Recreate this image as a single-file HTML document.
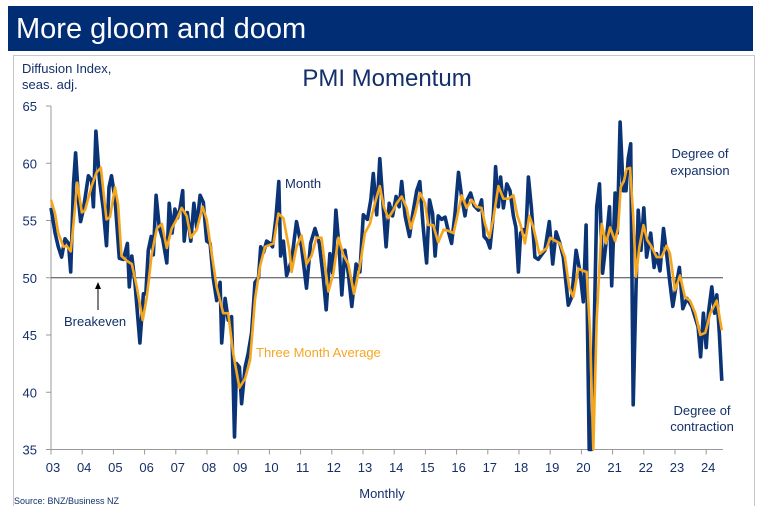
<!DOCTYPE html>
<html><head><meta charset="utf-8"><style>
body{margin:0;width:757px;height:506px;background:#fff;overflow:hidden;font-family:"Liberation Sans",sans-serif;}
</style></head><body>
<svg width="757" height="506" viewBox="0 0 757 506" style="position:absolute;left:0;top:0">
<rect x="8" y="6" width="745" height="45" fill="#002d74"/>
<text x="16" y="38" font-size="29" fill="#fff">More gloom and doom</text>
<rect x="13.5" y="55.5" width="741" height="460" fill="none" stroke="#c8c8c8"/>
<text x="22" y="73" font-size="13" fill="#14306a">Diffusion Index,</text>
<text x="22" y="89" font-size="13" fill="#14306a">seas. adj.</text>
<text x="387" y="86" font-size="24" fill="#14306a" text-anchor="middle">PMI Momentum</text>
<g id="axes"></g>
<g id="marks"></g>
<text x="285" y="188" font-size="13" fill="#14306a">Month</text>
<text x="64" y="326" font-size="13" fill="#14306a">Breakeven</text>
<line x1="98" y1="310" x2="98" y2="287" stroke="#000" stroke-width="1"/>
<polygon points="98,282 95,289 101,289" fill="#000"/>
<text x="256" y="357" font-size="13" fill="#f5a623">Three Month Average</text>
<text x="700" y="158" font-size="13" fill="#14306a" text-anchor="middle">Degree of</text>
<text x="700" y="175" font-size="13" fill="#14306a" text-anchor="middle">expansion</text>
<text x="702" y="415" font-size="13" fill="#14306a" text-anchor="middle">Degree of</text>
<text x="702" y="431" font-size="13" fill="#14306a" text-anchor="middle">contraction</text>
<text x="382" y="498" font-size="13" fill="#14306a" text-anchor="middle">Monthly</text>
<text x="14" y="504" font-size="9" fill="#14306a">Source: BNZ/Business NZ</text>
</svg>
<script>
const yTicks=[65,60,55,50,45,40,35];
const xTickLabels=["03","04","05","06","07","08","09","10","11","12","13","14","15","16","17","18","19","20","21","22","23","24"];
const breakeven=50;
const monthT=[0,.13,.235,.34,.45,.56,.63,.72,.79,.88,.95,1.04,1.20,1.30,1.36,1.44,1.55,1.68,1.78,1.86,1.94,2.05,2.19,2.32,2.45,2.51,2.59,2.69,2.85,2.96,3.04,3.12,3.21,3.28,3.37,3.47,3.58,3.71,3.79,3.88,3.97,4.05,4.13,4.22,4.27,4.37,4.48,4.58,4.67,4.78,4.88,4.99,5.10,5.20,5.31,5.42,5.47,5.58,5.68,5.79,5.88,5.95,6.04,6.11,6.22,6.32,6.43,6.54,6.65,6.72,6.81,6.91,7.02,7.10,7.21,7.30,7.36,7.45,7.55,7.71,7.87,8.03,8.19,8.32,8.46,8.60,8.73,8.82,8.94,9.03,9.13,9.24,9.32,9.42,9.53,9.64,9.78,9.90,10.01,10.14,10.25,10.33,10.44,10.54,10.63,10.74,10.84,10.95,11.06,11.16,11.24,11.35,11.49,11.59,11.72,11.82,11.93,12.04,12.13,12.23,12.31,12.41,12.52,12.63,12.73,12.84,12.95,13.06,13.16,13.27,13.34,13.45,13.56,13.70,13.80,13.88,13.98,14.07,14.18,14.25,14.34,14.41,14.50,14.61,14.71,14.82,14.90,14.98,15.05,15.14,15.22,15.30,15.40,15.51,15.62,15.67,15.83,15.97,16.08,16.19,16.31,16.42,16.58,16.69,16.83,16.96,17.06,17.15,17.25,17.33,17.49,17.58,17.68,17.79,17.90,17.97,18.08,18.15,18.24,18.34,18.43,18.50,18.58,18.66,18.75,18.82,18.91,19.00,19.09,19.22,19.33,19.41,19.52,19.63,19.73,19.84,19.93,20.03,20.14,20.25,20.38,20.54,20.65,20.74,20.82,20.91,21.00,21.07,21.18,21.27,21.34,21.42,21.50];
const monthValues=[56.1,53.9,52.7,51.8,53.4,53.0,50.5,58.2,60.9,56.8,54.9,56.0,58.9,58.5,56.2,62.8,58.6,55.9,52.8,57.9,58.9,56.9,51.7,51.6,53.0,49.2,51.9,49.6,44.3,48.6,48.6,52.4,53.6,52.0,57.2,54.4,53.4,51.3,56.5,53.9,56.0,55.2,56.0,57.6,53.2,55.7,53.2,56.5,54.4,57.2,56.6,53.2,53.0,50.0,48.0,49.6,44.3,48.2,46.3,46.6,36.1,42.5,42.2,39.0,42.2,43.4,45.2,49.6,50.0,52.7,52.2,53.2,53.0,52.7,55.3,58.4,51.9,53.2,50.2,51.5,54.9,52.7,49.1,53.0,54.3,53.0,49.9,47.2,52.1,50.4,55.9,52.4,48.5,52.4,50.4,47.5,51.2,50.5,55.5,55.1,56.8,59.1,55.5,60.4,56.8,52.7,56.5,55.4,57.1,56.2,58.4,55.4,53.6,55.5,57.6,58.4,54.4,51.3,56.8,55.6,51.9,55.4,55.1,55.3,54.1,53.0,55.6,59.2,57.1,55.4,56.8,57.4,56.3,55.9,56.8,53.6,53.3,52.6,55.6,59.7,56.2,58.8,56.1,58.2,57.6,55.4,54.4,50.5,53.9,54.2,53.9,58.8,56.0,51.8,51.6,51.8,52.4,54.9,51.2,54.0,53.0,51.8,47.6,48.3,52.4,50.4,47.9,54.6,35.0,35.0,56.2,58.2,50.4,53.0,56.2,49.3,57.4,53.9,63.6,57.6,57.6,60.4,61.7,38.9,49.1,55.9,52.4,56.1,51.8,53.9,50.9,52.1,50.6,54.3,52.1,49.5,47.5,49.2,50.9,47.3,48.2,47.5,46.5,45.7,43.1,46.9,43.9,46.9,49.2,46.9,48.5,45.2,41.0];
const avgT=[0,.13,.235,.40,.50,.63,.72,.84,.99,1.09,1.30,1.46,1.60,1.78,1.89,2.05,2.15,2.26,2.42,2.59,2.75,2.94,3.07,3.23,3.39,3.55,3.71,3.87,4.03,4.19,4.35,4.48,4.67,4.86,4.99,5.15,5.31,5.52,5.68,5.84,6.04,6.22,6.38,6.54,6.70,6.86,7.13,7.29,7.45,7.64,7.71,7.87,8.03,8.19,8.35,8.51,8.67,8.89,9.05,9.21,9.37,9.53,9.71,9.90,10.06,10.22,10.38,10.54,10.67,10.81,10.97,11.08,11.24,11.40,11.53,11.67,11.83,11.99,12.09,12.25,12.41,12.58,12.73,12.90,13.00,13.16,13.32,13.48,13.64,13.80,13.91,14.05,14.18,14.34,14.50,14.66,14.82,14.95,15.05,15.19,15.33,15.46,15.65,15.67,15.89,16.00,16.12,16.31,16.47,16.61,16.74,16.90,17.06,17.17,17.28,17.38,17.49,17.65,17.79,17.92,18.08,18.18,18.26,18.37,18.45,18.56,18.66,18.75,18.86,18.99,19.11,19.25,19.41,19.57,19.73,19.84,20.00,20.16,20.32,20.48,20.65,20.81,20.97,21.13,21.34,21.50];
const avgValues=[56.8,55.6,53.9,52.7,52.8,52.3,54.7,58.3,55.7,55.9,58.0,59.2,59.6,55.1,55.3,57.9,56.4,51.9,51.5,51.2,49.2,46.3,48.3,52.1,54.3,54.7,52.6,54.3,55.1,56.1,55.4,53.5,54.2,56.2,55.1,52.1,49.2,46.9,46.9,43.4,40.4,41.2,42.8,48.1,51.0,52.7,53.0,55.6,55.2,52.4,50.5,52.7,53.7,51.2,51.9,53.5,53.5,48.8,50.4,53.5,52.0,51.2,48.6,51.0,53.9,54.7,56.5,58.0,56.2,55.2,55.9,56.5,57.1,56.1,54.3,55.6,57.4,56.5,54.6,54.6,53.1,54.2,54.1,53.9,55.1,57.2,56.1,56.8,56.2,56.1,54.7,53.5,55.2,58.0,56.9,56.9,57.2,55.4,54.6,53.0,55.4,54.4,52.1,52.1,52.6,53.5,53.3,53.0,51.8,49.2,48.3,50.8,50.6,50.5,45.2,35.0,46.3,54.7,53.0,54.4,53.2,54.4,57.9,58.5,59.5,59.6,55.4,50.1,52.7,54.6,53.3,52.7,51.8,51.8,52.8,52.1,48.9,50.2,48.3,48.0,46.9,45.0,45.2,46.9,48.0,45.4];

const NS='http://www.w3.org/2000/svg';
const X0=51,PX_PER_YEAR=31.2,Y65=106,PX_PER_UNIT=11.45;
function xs(t){return X0+t*PX_PER_YEAR;}
function ys(v){return Y65+(65-v)*PX_PER_UNIT;}
function mk(tag,attrs,parent){const e=document.createElementNS(NS,tag);for(const k in attrs)e.setAttribute(k,attrs[k]);parent.appendChild(e);return e;}
const axes=document.getElementById('axes'),marks=document.getElementById('marks');
const yAxis=mk('line',{x1:X0,y1:ys(65),x2:X0,y2:ys(35),stroke:'#999'},axes);


const xAxis=mk('line',{x1:X0,y1:ys(35),x2:723,y2:ys(35),stroke:'#999'},axes);


yTicks.forEach(v=>{
  const tk=mk('line',{x1:X0-5,y1:ys(v),x2:X0,y2:ys(v),stroke:'#999'},axes);
  
  
  const t=mk('text',{x:37,y:ys(v)+5,'font-size':13,fill:'#14306a','text-anchor':'end'},axes);
  t.textContent=v;
  
  
});
xTickLabels.forEach((lab,i)=>{
  const tk=mk('line',{x1:xs(i),y1:ys(35),x2:xs(i),y2:ys(35)+5,stroke:'#999'},axes);
  
  
  const t=mk('text',{x:xs(i)+2,y:472,'font-size':13,fill:'#14306a','text-anchor':'middle'},axes);
  t.textContent=lab;
  
  
});
const be=mk('line',{x1:X0,y1:ys(breakeven),x2:723,y2:ys(breakeven),stroke:'#444','stroke-width':1},axes);


function pts(T,V){return T.map((t,i)=>xs(t).toFixed(1)+','+ys(V[i]).toFixed(1)).join(' ');}
const mLine=mk('polyline',{points:pts(monthT,monthValues),fill:'none',stroke:'#0b3477','stroke-width':3.6,'stroke-linejoin':'round'},marks);


const aLine=mk('polyline',{points:pts(avgT,avgValues),fill:'none',stroke:'#f6a61d','stroke-width':2.6,'stroke-linejoin':'round'},marks);


</script>
</body></html>
